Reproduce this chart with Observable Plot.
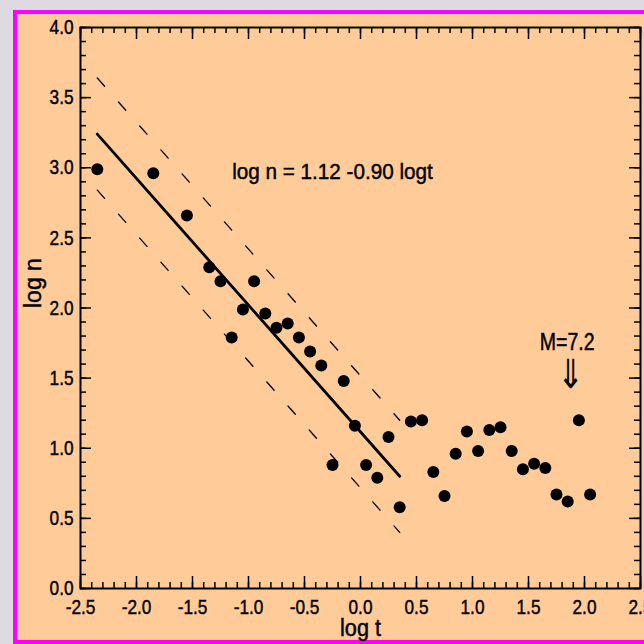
<!DOCTYPE html>
<html><head><meta charset="utf-8">
<script src="https://cdn.jsdelivr.net/npm/d3@7"></script>
<script src="https://cdn.jsdelivr.net/npm/@observablehq/plot@0.6"></script>
<style>
html,body{margin:0;padding:0;background:#DDDBE1;overflow:hidden;}
#wrap{position:relative;width:644px;height:644px;overflow:hidden;background:#DDDBE1;}
#panel{position:absolute;left:13px;top:10px;width:700px;height:634px;box-sizing:border-box;border:4px solid #FF00FF;background:#FFCC99;}
#chart{position:absolute;left:0;top:0;}
</style></head><body>
<div id="wrap"><div id="panel"></div><div id="chart"></div></div>
<script>
// data: log t (x) and log n (y)
const logT = [-2.35,-1.85,-1.55,-1.35,-1.25,-1.15,-1.05,-0.95,-0.85,-0.75,-0.65,-0.55,-0.45,-0.35,-0.25,-0.15,-0.05,0.05,0.15,0.25,0.35,0.45,0.55,0.65,0.75,0.85,0.95,1.05,1.15,1.25,1.35,1.45,1.55,1.65,1.75,1.85,1.95,2.05];
const logN = [2.99,2.96,2.66,2.29,2.19,1.79,1.99,2.19,1.96,1.86,1.89,1.79,1.69,1.59,0.88,1.48,1.16,0.88,0.79,1.08,0.58,1.19,1.20,0.83,0.66,0.96,1.12,0.98,1.13,1.15,0.98,0.85,0.89,0.86,0.67,0.62,1.20,0.67];
// regression line endpoints and +/- band
const fitT = [-2.35, 0.35];
const fitN = [3.24, 0.80];
const upperN = [3.64, 1.20];
const lowerN = [2.84, 0.40];
// tick labels
const majorX = [-2.5,-2.0,-1.5,-1.0,-0.5,0.0,0.5,1.0,1.5,2.0,2.5];
const majorY = [0.0,0.5,1.0,1.5,2.0,2.5,3.0,3.5,4.0];
const minorX = d3.range(-25, 26).map(i => i / 10);
const minorY = d3.range(0, 41).map(i => i / 10);
const equation = "log n = 1.12 -0.90 logt";
const markLabel = "M=7.2";
const arrowGlyph = "⇓";

const points = logT.map((t, i) => ({t, n: logN[i]}));
const fit = fitT.map((t, i) => ({t, n: fitN[i]}));
const upper = fitT.map((t, i) => ({t, n: upperN[i]}));
const lower = fitT.map((t, i) => ({t, n: lowerN[i]}));

const W = 644, H = 644, mL = 80, mR = 4, mT = 27, mB = 56;
const pw = W - mL - mR, ph = H - mT - mB;
const fmt = d => d.toFixed(1);
const font = "'Liberation Sans Narrow', 'Arial Narrow', 'Liberation Sans', sans-serif";

const chart = Plot.plot({
  width: W, height: H,
  marginLeft: mL, marginRight: mR, marginTop: mT, marginBottom: mB,
  style: {background: "transparent", fontFamily: font, fontSize: "21px", color: "black", overflow: "visible"},
  x: {domain: [-2.5, 2.5]},
  y: {domain: [0, 4]},
  marks: [
    // inward ticks
    Plot.tickX(minorX, {x: d => d, insetTop: ph - 6, strokeWidth: 1.5}),
    Plot.tickX(minorX, {x: d => d, insetBottom: ph - 6, strokeWidth: 1.5}),
    Plot.tickX(majorX, {x: d => d, insetTop: ph - 12, strokeWidth: 1.5}),
    Plot.tickX(majorX, {x: d => d, insetBottom: ph - 12, strokeWidth: 1.5}),
    Plot.tickY(minorY, {y: d => d, insetRight: pw - 6, strokeWidth: 1.5}),
    Plot.tickY(minorY, {y: d => d, insetLeft: pw - 6, strokeWidth: 1.5}),
    Plot.tickY(majorY, {y: d => d, insetRight: pw - 11, strokeWidth: 1.5}),
    Plot.tickY(majorY, {y: d => d, insetLeft: pw - 11, strokeWidth: 1.5}),
    Plot.frame({stroke: "black", strokeWidth: 2}),
    Plot.axisX({ticks: majorX, tickSize: 0, tickPadding: 11, tickFormat: fmt, label: null, fontSize: 21}),
    Plot.axisY({ticks: majorY, tickSize: 0, tickPadding: 7, tickFormat: fmt, label: null, fontSize: 21}),
    Plot.text(["log t"], {frameAnchor: "bottom", dy: 47, fontSize: 23}),
    Plot.text(["log n"], {frameAnchor: "left", dx: -47, rotate: -90, fontSize: 23}),
    // regression & band
    Plot.line(upper, {x: "t", y: "n", stroke: "black", strokeWidth: 1.3, strokeDasharray: "11,21"}),
    Plot.line(lower, {x: "t", y: "n", stroke: "black", strokeWidth: 1.3, strokeDasharray: "11,21"}),
    Plot.line(fit, {x: "t", y: "n", stroke: "black", strokeWidth: 2.8}),
    Plot.dot(points, {x: "t", y: "n", r: 6, fill: "black"}),
    // annotations
    Plot.text([equation], {x: -0.25, y: 2.97, fontSize: 22}),
    Plot.text([markLabel], {x: 1.845, y: 1.756, fontSize: 23}),
    Plot.text([arrowGlyph], {x: 1.875, y: 1.52, fontSize: 40, fontFamily: "DejaVu Sans"})
  ]
});
document.getElementById("chart").appendChild(chart);

// condense and slightly embolden the sans font to approximate the original's narrow typeface
chart.querySelectorAll("text").forEach(el => {
  const s = el.textContent.trim();
  let k = 1;
  if (/^-?\d\.\d$/.test(s)) k = 0.82;
  else if (s === markLabel) k = 0.85;
  else if (s === equation) k = 0.94;
  else if (s === "log t") k = 0.94;
  else if (s === arrowGlyph) k = 0.8;
  if (k !== 1) {
    const L = el.getComputedTextLength();
    el.setAttribute("textLength", (L * k).toFixed(2));
    el.setAttribute("lengthAdjust", "spacingAndGlyphs");
  }
  if (s !== arrowGlyph) {
    el.setAttribute("stroke", "black");
    el.setAttribute("stroke-width", "0.45");
  }
});
</script>
</body></html>
